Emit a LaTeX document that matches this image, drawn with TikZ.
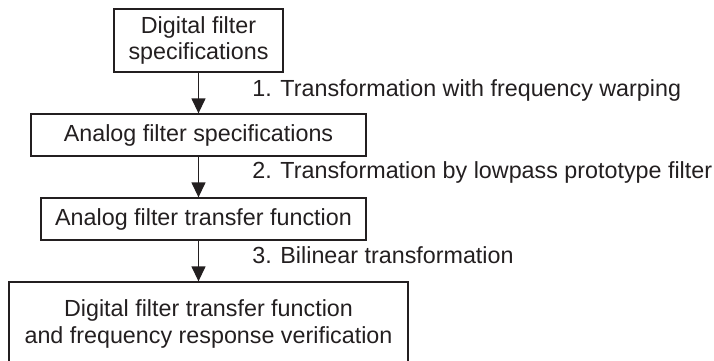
\documentclass[tikz,border=0pt]{standalone}
\usepackage{fontspec}
\setmainfont{Liberation Sans}
\usetikzlibrary{arrows.meta}
\definecolor{Ink}{RGB}{35,31,32}

\begin{document}
\begin{tikzpicture}[x=0.5pt,y=-0.5pt,
  stage/.style={draw=Ink,line width=0.65pt,text=Ink,inner sep=0pt,align=center,
    font=\fontsize{11.65}{13.25}\selectfont},
  tag/.style={anchor=base west,text=Ink,inner sep=0pt,font=\fontsize{11.65}{13.25}\selectfont},
  flow/.style={draw=Ink,line width=0.65pt,-{Triangle[length=7.5pt,width=7pt]}}]
\path[use as bounding box] (0,0) rectangle (714,360);
% stages
\node[stage,minimum width=84.5pt,minimum height=31.5pt] (dspec) at (198.5,40.5) {Digital filter\\specifications};
\node[stage,minimum width=167.5pt,minimum height=21pt] (aspec) at (198.5,135) {Analog filter specifications};
\node[stage,minimum width=162.5pt,minimum height=21pt] (atf) at (203.5,219) {Analog filter transfer function};
\node[stage,minimum width=199.5pt,minimum height=42pt] (dtf) at (208.5,324) {Digital filter transfer function\\and frequency response verification};
% arrows
\draw[flow] (dspec.south) -- (aspec.north);
\draw[flow] (aspec.south) -- (aspec.south |- atf.north);
\draw[flow] (aspec.south |- atf.south) -- (aspec.south |- dtf.north);
% step labels
\node[tag] (t1) at (252,96) {1. Transformation with frequency warping};
\node[tag] (t2) at (252,178) {2. Transformation by lowpass prototype filter};
\node[tag] (t3) at (252,263) {3. Bilinear transformation};
\end{tikzpicture}
\end{document}
